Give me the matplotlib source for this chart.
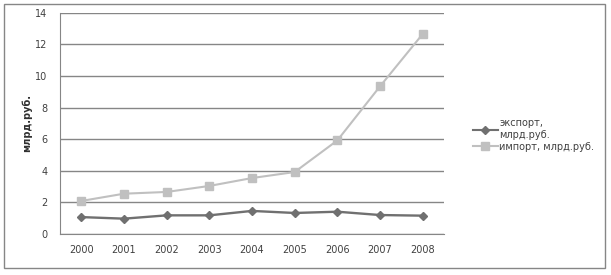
import matplotlib.pyplot as plt
from matplotlib.patches import Rectangle

# Data
years = ["2000", "2001", "2002", "2003", "2004", "2005", "2006", "2007", "2008"]
export_vals = [1.07, 0.97, 1.18, 1.18, 1.46, 1.33, 1.41, 1.2, 1.16]
import_vals = [2.09, 2.55, 2.66, 3.04, 3.54, 3.92, 5.92, 9.34, 12.65]

plt.rcParams["font.family"] = ["DejaVu Sans"]

fig = plt.figure(figsize=(6.11, 2.75), dpi=100)
ax = fig.add_axes([60 / 611, 1 - 234 / 275, 384 / 611, (234 - 12.7) / 275])

# outer chart border
fig.patches.append(Rectangle((4 / 611, 1 - 268 / 275), 601 / 611, 264 / 275,
                             transform=fig.transFigure, fill=False,
                             edgecolor="#868686", linewidth=1))

x = list(range(len(years)))
ax.plot(x, export_vals, color="#707070", linewidth=1.7, marker="D", markersize=4.5,
        label="экспорт,\nмлрд.руб.")
ax.plot(x, import_vals, color="#c0c0c0", linewidth=1.5, marker="s", markersize=5.5,
        label="импорт, млрд.руб.")

ax.set_xlim(-0.5, len(years) - 0.5)
ax.set_ylim(0, 14)
ax.set_yticks(range(0, 15, 2))
ax.set_xticks(x)
ax.set_xticklabels(years)
ax.grid(axis="y", color="#868686", linewidth=1)
ax.set_axisbelow(True)

for side in ["top", "right"]:
    ax.spines[side].set_visible(False)
ax.spines["left"].set_color("#868686")
ax.spines["bottom"].set_color("#868686")
ax.tick_params(axis="both", length=0, labelsize=7, colors="#404040", pad=8)
ax.tick_params(axis="y", pad=9)

ax.set_ylabel("млрд.руб.", fontsize=7, fontweight="semibold", color="#303030", labelpad=2)

leg = ax.legend(loc="center left", bbox_to_anchor=(464 / 611, 1 - 135 / 275),
                bbox_transform=fig.transFigure, frameon=False, fontsize=7,
                handlelength=2.6, handletextpad=0.1, labelspacing=0.2)
for t in leg.get_texts():
    t.set_color("#404040")
for h in leg.get_lines():
    h.set_linewidth(1.5)

fig.savefig("out.png", dpi=100)
